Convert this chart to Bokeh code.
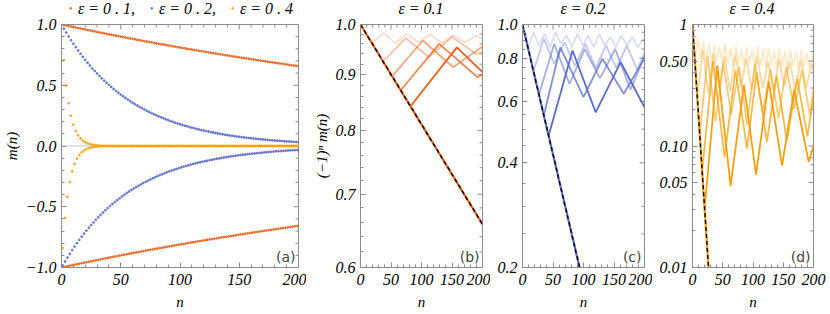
from bokeh.plotting import figure
from bokeh.layouts import row, column
from bokeh.models import (Range1d, FixedTicker, Label, Span, PrintfTickFormatter, Div)
from bokeh.embed import file_html
from bokeh.resources import INLINE

# ---------------- data ----------------
n_index = list(range(201))

# (-1)^n m(n) for the infinite chain (a)-(d)
alt_m_01 = [
    1.000, 0.998, 0.996, 0.994, 0.992, 0.990, 0.988, 0.985, 0.983, 0.981,
    0.979, 0.977, 0.975, 0.973, 0.971, 0.969, 0.967, 0.965, 0.963, 0.961,
    0.959, 0.957, 0.955, 0.953, 0.951, 0.949, 0.947, 0.945, 0.943, 0.941,
    0.939, 0.937, 0.935, 0.933, 0.931, 0.929, 0.927, 0.925, 0.923, 0.921,
    0.919, 0.918, 0.916, 0.914, 0.912, 0.910, 0.908, 0.906, 0.904, 0.902,
    0.900, 0.898, 0.897, 0.895, 0.893, 0.891, 0.889, 0.887, 0.885, 0.883,
    0.882, 0.880, 0.878, 0.876, 0.874, 0.872, 0.871, 0.869, 0.867, 0.865,
    0.863, 0.861, 0.860, 0.858, 0.856, 0.854, 0.853, 0.851, 0.849, 0.847,
    0.845, 0.844, 0.842, 0.840, 0.838, 0.837, 0.835, 0.833, 0.831, 0.830,
    0.828, 0.826, 0.824, 0.823, 0.821, 0.819, 0.817, 0.816, 0.814, 0.812,
    0.811, 0.809, 0.807, 0.806, 0.804, 0.802, 0.800, 0.799, 0.797, 0.795,
    0.794, 0.792, 0.790, 0.789, 0.787, 0.785, 0.784, 0.782, 0.781, 0.779,
    0.777, 0.776, 0.774, 0.772, 0.771, 0.769, 0.768, 0.766, 0.764, 0.763,
    0.761, 0.760, 0.758, 0.756, 0.755, 0.753, 0.752, 0.750, 0.748, 0.747,
    0.745, 0.744, 0.742, 0.741, 0.739, 0.738, 0.736, 0.734, 0.733, 0.731,
    0.730, 0.728, 0.727, 0.725, 0.724, 0.722, 0.721, 0.719, 0.718, 0.716,
    0.715, 0.713, 0.712, 0.710, 0.709, 0.707, 0.706, 0.704, 0.703, 0.701,
    0.700, 0.698, 0.697, 0.695, 0.694, 0.692, 0.691, 0.690, 0.688, 0.687,
    0.685, 0.684, 0.682, 0.681, 0.680, 0.678, 0.677, 0.675, 0.674, 0.672,
    0.671, 0.670, 0.668, 0.667, 0.665, 0.664, 0.663, 0.661, 0.660, 0.658,
    0.657]

alt_m_02 = [
    1.000, 0.983, 0.966, 0.950, 0.934, 0.918, 0.902, 0.887, 0.871, 0.857,
    0.842, 0.828, 0.814, 0.800, 0.786, 0.773, 0.759, 0.746, 0.734, 0.721,
    0.709, 0.697, 0.685, 0.673, 0.662, 0.651, 0.639, 0.629, 0.618, 0.607,
    0.597, 0.587, 0.577, 0.567, 0.557, 0.548, 0.538, 0.529, 0.520, 0.511,
    0.503, 0.494, 0.486, 0.477, 0.469, 0.461, 0.453, 0.446, 0.438, 0.431,
    0.423, 0.416, 0.409, 0.402, 0.395, 0.388, 0.382, 0.375, 0.369, 0.362,
    0.356, 0.350, 0.344, 0.338, 0.333, 0.327, 0.321, 0.316, 0.311, 0.305,
    0.300, 0.295, 0.290, 0.285, 0.280, 0.275, 0.271, 0.266, 0.261, 0.257,
    0.253, 0.248, 0.244, 0.240, 0.236, 0.232, 0.228, 0.224, 0.220, 0.216,
    0.213, 0.209, 0.205, 0.202, 0.199, 0.195, 0.192, 0.189, 0.185, 0.182,
    0.179, 0.176, 0.173, 0.170, 0.167, 0.164, 0.162, 0.159, 0.156, 0.153,
    0.151, 0.148, 0.146, 0.143, 0.141, 0.138, 0.136, 0.134, 0.131, 0.129,
    0.127, 0.125, 0.123, 0.121, 0.119, 0.116, 0.115, 0.113, 0.111, 0.109,
    0.107, 0.105, 0.103, 0.102, 0.100, 0.098, 0.096, 0.095, 0.093, 0.092,
    0.090, 0.088, 0.087, 0.085, 0.084, 0.083, 0.081, 0.080, 0.078, 0.077,
    0.076, 0.074, 0.073, 0.072, 0.071, 0.070, 0.068, 0.067, 0.066, 0.065,
    0.064, 0.063, 0.062, 0.061, 0.060, 0.059, 0.058, 0.057, 0.056, 0.055,
    0.054, 0.053, 0.052, 0.051, 0.050, 0.049, 0.048, 0.048, 0.047, 0.046,
    0.045, 0.044, 0.044, 0.043, 0.042, 0.042, 0.041, 0.040, 0.039, 0.039,
    0.038, 0.037, 0.037, 0.036, 0.036, 0.035, 0.034, 0.034, 0.033, 0.033,
    0.032]

alt_m_04 = [
    1.000, 0.840, 0.706, 0.593, 0.499, 0.419, 0.352, 0.296, 0.249, 0.209,
    0.176, 0.147, 0.124, 0.104, 0.0875, 0.0735, 0.0618, 0.0519, 0.0436, 0.0367,
    0.0308, 0.0259, 0.0218, 0.0183, 0.0154, 0.0129, 0.0109, 0.0091, 0.0077, 0.0064,
    0.0054, 0.0045, 0.0038, 0.0032, 0.0027, 0.0023, 0.0019, 0.0016, 0.0014, 0.0011,
    0.0010, 0, 0, 0, 0, 0, 0, 0, 0, 0,
    0, 0, 0, 0, 0, 0, 0, 0, 0, 0,
    0, 0, 0, 0, 0, 0, 0, 0, 0, 0,
    0, 0, 0, 0, 0, 0, 0, 0, 0, 0,
    0, 0, 0, 0, 0, 0, 0, 0, 0, 0,
    0, 0, 0, 0, 0, 0, 0, 0, 0, 0,
    0, 0, 0, 0, 0, 0, 0, 0, 0, 0,
    0, 0, 0, 0, 0, 0, 0, 0, 0, 0,
    0, 0, 0, 0, 0, 0, 0, 0, 0, 0,
    0, 0, 0, 0, 0, 0, 0, 0, 0, 0,
    0, 0, 0, 0, 0, 0, 0, 0, 0, 0,
    0, 0, 0, 0, 0, 0, 0, 0, 0, 0,
    0, 0, 0, 0, 0, 0, 0, 0, 0, 0,
    0, 0, 0, 0, 0, 0, 0, 0, 0, 0,
    0, 0, 0, 0, 0, 0, 0, 0, 0, 0,
    0, 0, 0, 0, 0, 0, 0, 0, 0, 0,
    0]

# finite-size curves (n, (-1)^n m(n)), lightest -> darkest
b_n = [
    [19, 38, 57, 76, 95, 114, 133, 152, 171, 190, 200],
    [37, 74, 112, 150, 190, 200],
    [52, 102, 152, 200],
    [66, 129, 192, 200],
    [82, 158, 200],
]
b_v = [
    [0.961, 0.982, 0.962, 0.980, 0.963, 0.979, 0.962, 0.978, 0.963, 0.977, 0.970],
    [0.925, 0.972, 0.934, 0.974, 0.940, 0.944],
    [0.897, 0.967, 0.914, 0.955],
    [0.871, 0.960, 0.895, 0.900],
    [0.842, 0.953, 0.905],
]
c_n = [
    [9, 18, 27, 36, 45, 54, 63, 72, 81, 90, 99, 108, 117, 126, 135, 144, 153, 162,
     171, 180, 189, 198, 200],
    [18, 35, 52, 69, 86, 103, 120, 137, 154, 171, 188, 200],
    [27, 52, 77, 102, 127, 152, 177, 200],
    [35, 62, 100, 131, 166, 200],
    [43, 82, 120, 161, 200],
]
c_v = [
    [0.857, 0.95, 0.87, 0.94, 0.86, 0.95, 0.88, 0.93, 0.86, 0.94, 0.87, 0.93, 0.86,
     0.94, 0.87, 0.92, 0.86, 0.93, 0.87, 0.92, 0.86, 0.91, 0.89],
    [0.734, 0.91, 0.77, 0.89, 0.76, 0.88, 0.75, 0.87, 0.75, 0.87, 0.74, 0.83],
    [0.629, 0.88, 0.675, 0.85, 0.70, 0.85, 0.65, 0.81],
    [0.548, 0.86, 0.618, 0.797, 0.632, 0.80],
    [0.480, 0.842, 0.559, 0.779, 0.578],
]
d_n = [
    [4, 9, 13, 18, 22, 27, 31, 36, 40, 45, 49, 54, 58, 63, 67, 72, 76, 81, 85, 90,
     94, 99, 103, 108, 112, 117, 121, 126, 130, 135, 139, 144, 148, 153, 157, 162,
     166, 171, 175, 180, 184, 189, 193, 198, 200],
    [8, 17, 26, 35, 44, 53, 62, 71, 80, 89, 98, 107, 116, 125, 134, 143, 152, 161,
     170, 179, 188, 197, 200],
    [12, 25, 38, 51, 64, 77, 90, 103, 116, 129, 142, 155, 168, 181, 194, 200],
    [16, 34, 53, 71, 90, 106, 123, 139, 156, 173, 190, 200],
    [20, 41, 63, 85, 105, 126, 148, 168, 192, 200],
]
d_v = [
    [0.50, 0.78, 0.52, 0.72, 0.50, 0.70, 0.48, 0.68, 0.50, 0.66, 0.47, 0.70, 0.48,
     0.64, 0.46, 0.66, 0.47, 0.63, 0.45, 0.65, 0.47, 0.62, 0.45, 0.66, 0.46, 0.63,
     0.44, 0.64, 0.46, 0.61, 0.44, 0.63, 0.45, 0.60, 0.43, 0.62, 0.45, 0.60, 0.44,
     0.62, 0.43, 0.59, 0.44, 0.58, 0.52],
    [0.249, 0.62, 0.27, 0.58, 0.30, 0.55, 0.28, 0.56, 0.31, 0.52, 0.29, 0.54, 0.30,
     0.50, 0.28, 0.52, 0.31, 0.49, 0.29, 0.51, 0.30, 0.48, 0.40],
    [0.124, 0.55, 0.16, 0.48, 0.18, 0.45, 0.15, 0.47, 0.19, 0.43, 0.17, 0.45, 0.20,
     0.42, 0.18, 0.30],
    [0.062, 0.50, 0.081, 0.42, 0.095, 0.40, 0.108, 0.38, 0.11, 0.36, 0.12, 0.25],
    [0.030, 0.46, 0.047, 0.32, 0.058, 0.34, 0.069, 0.29, 0.074, 0.10],
]

eps_labels = ["ε = 0 . 1,", "ε = 0 . 2,", "ε = 0 . 4"]
panel_titles = ["ε = 0.1", "ε = 0.2", "ε = 0.4"]
x_ticks = [0, 50, 100, 150, 200]

# ---------------- style ----------------
SERIF = "Liberation Serif"
SANS = "DejaVu Sans"
GRAY = "#8c8c8c"
C01, C02, C04 = "#E8601C", "#5A6BC8", "#F4A00E"
ALPHAS = [0.22, 0.38, 0.55, 0.75, 1.0]
TOP = 14            # height of the text strip above the plots
LINE_H = 18         # line box of the strip texts (overflows into transparent plot border)
H = 300             # height of each figure
BORDER_TOP = 10
FRAME_H = 243
X_MINOR = [10, 20, 30, 40, 60, 70, 80, 90, 110, 120, 130, 140, 160, 170, 180, 190]


def style_axis(ax, standoff, label_standoff):
    ax.axis_line_color = GRAY
    ax.major_tick_line_color = GRAY
    ax.minor_tick_line_color = GRAY
    ax.major_tick_in = 5
    ax.major_tick_out = 0
    ax.minor_tick_in = 3
    ax.minor_tick_out = 0
    ax.major_label_text_font = SERIF
    ax.major_label_text_font_style = "italic"
    ax.major_label_text_color = "black"
    ax.major_label_text_font_size = "16px"
    ax.major_label_standoff = standoff
    ax.axis_label_text_font = SERIF
    ax.axis_label_text_font_style = "italic"
    ax.axis_label_text_font_size = "15px"
    ax.axis_label_text_color = "black"
    ax.axis_label_standoff = label_standoff


def make_panel(width, left, frame_w, y_type, y0, y1, y_ticks, y_minor, fmt, overrides,
               ylabel=None):
    p = figure(width=width, height=H, x_range=Range1d(0, 200), y_range=Range1d(y0, y1),
               y_axis_type=y_type, output_backend="svg", toolbar_location=None,
               min_border_left=left, min_border_right=width - left - frame_w,
               min_border_top=BORDER_TOP, min_border_bottom=H - BORDER_TOP - FRAME_H)
    p.grid.visible = False
    p.outline_line_color = GRAY
    p.border_fill_alpha = 0
    p.background_fill_color = "white"
    p.xaxis.ticker = FixedTicker(ticks=x_ticks, minor_ticks=X_MINOR)
    p.yaxis.ticker = FixedTicker(ticks=y_ticks, minor_ticks=y_minor)
    p.yaxis.formatter = PrintfTickFormatter(format=fmt)
    p.yaxis.major_label_overrides = overrides
    for ax in p.xaxis:
        style_axis(ax, 6, 6)
    for ax in p.yaxis:
        style_axis(ax, 5, 3)
    p.xaxis.axis_label = "n"
    if ylabel:
        p.yaxis.axis_label = ylabel

    # inward ticks on the top and right frame edges (mirror of the axis ticks)
    def y_below_top(px):
        if y_type == "log":
            return y1 * (y0 / y1) ** (px / FRAME_H)
        return y1 - (y1 - y0) * px / FRAME_H
    for ticks, L in [(x_ticks, 5), (X_MINOR, 3)]:
        p.segment(x0=ticks, y0=[y1] * len(ticks), x1=ticks,
                  y1=[y_below_top(L)] * len(ticks), line_color=GRAY, line_width=1)
    for ticks, L in [(y_ticks, 5), (y_minor, 3)]:
        p.segment(x0=[200] * len(ticks), y0=ticks, x1=[200 - 200 * L / frame_w] * len(ticks),
                  y1=ticks, line_color=GRAY, line_width=1)
    return p


def panel_label(p, text):
    p.add_layout(Label(x=200, y=p.y_range.start, x_offset=-3, y_offset=3, text=text,
                       text_align="right", text_baseline="bottom", text_font=SANS,
                       text_font_size="14px"))


# ---------------- panel (a) ----------------
pa = make_panel(306, 61, 237, "linear", -1.0, 1.0, [-1.0, -0.5, 0.0, 0.5, 1.0],
                [-0.9, -0.8, -0.7, -0.6, -0.4, -0.3, -0.2, -0.1, 0.1, 0.2, 0.3, 0.4,
                 0.6, 0.7, 0.8, 0.9],
                "%.1f", {-1: "−1.0", -0.5: "−0.5"}, ylabel="m(n)")
pa.add_layout(Span(location=0, dimension="width", line_color="#c8c8c8", line_width=1,
                   level="underlay"))
for alt, col in [(alt_m_01, C01), (alt_m_02, C02), (alt_m_04, C04)]:
    m_vals = [a if j % 2 == 0 else -a for j, a in enumerate(alt)]
    pa.scatter(n_index, m_vals, size=1.9, color=col, alpha=0.85, marker="circle")
panel_label(pa, "(a)")

# ---------------- panels (b)-(d) ----------------
pb = make_panel(184, 54, 122, "log", 0.6, 1.0, [0.6, 0.7, 0.8, 0.9, 1.0],
                [0.62, 0.64, 0.66, 0.68, 0.72, 0.74, 0.76, 0.78, 0.82, 0.84, 0.86, 0.88,
                 0.92, 0.94, 0.96, 0.98],
                "%.1f", {}, ylabel="(−1)ⁿ m(n)")
pc = make_panel(162, 32, 122, "log", 0.2, 1.0, [0.2, 0.4, 0.6, 0.8, 1.0],
                [0.25, 0.3, 0.35, 0.45, 0.5, 0.55, 0.65, 0.7, 0.75, 0.85, 0.9, 0.95],
                "%.1f", {})
pd = make_panel(176, 40, 121, "log", 0.01, 1.0, [0.01, 0.05, 0.1, 0.5, 1.0],
                [0.02, 0.03, 0.04, 0.06, 0.07, 0.08, 0.09, 0.2, 0.3, 0.4, 0.6, 0.7, 0.8, 0.9],
                "%.2f", {1: "1"})

for p, col, cn, cv, alt, lab in [
        (pb, C01, b_n, b_v, alt_m_01, "(b)"),
        (pc, C02, c_n, c_v, alt_m_02, "(c)"),
        (pd, C04, d_n, d_v, alt_m_04, "(d)")]:
    for k in range(len(cn)):
        p.line(cn[k], cv[k], color=col, line_width=1.8, alpha=ALPHAS[k])
    xs = [j for j, a in zip(n_index, alt) if a > 0]
    ys = [a for a in alt if a > 0]
    p.line(xs, ys, color=col, line_width=2.2)
    p.line(xs, ys, color="black", line_width=1.4, line_dash="4 3")
    panel_label(p, lab)

# ---------------- legend of (a) and titles of (b)-(d), as a text strip ----------------
def span(left, text, color="black", size=16, style="italic", center=False, top=0):
    shift = "transform:translateX(-50%);" if center else ""
    return (f'<span style="position:absolute;left:{left}px;top:{top}px;{shift}'
            f'color:{color};font-size:{size}px;font-style:{style};white-space:nowrap;'
            f'line-height:{LINE_H}px;">{text}</span>')


legend_left = [69, 150, 231]
strip = []
for k, col in enumerate([C01, C02, C04]):
    strip.append(span(legend_left[k], "•", color=col, size=10, style="normal"))
    strip.append(span(legend_left[k] + 9, eps_labels[k]))
for left, title in zip([421, 583, 752], panel_titles):
    strip.append(span(left, title, center=True))
html = (f'<div style="position:relative;width:830px;height:{TOP}px;overflow:visible;'
        f"font-family:'{SERIF}';\">" + "".join(strip) + "</div>")
header = Div(text=html, width=830, height=TOP, margin=0, styles={"overflow": "visible"})

layout = column(header, row(pa, pb, pc, pd), spacing=0)
open("out.html", "w").write(file_html(layout, INLINE))
